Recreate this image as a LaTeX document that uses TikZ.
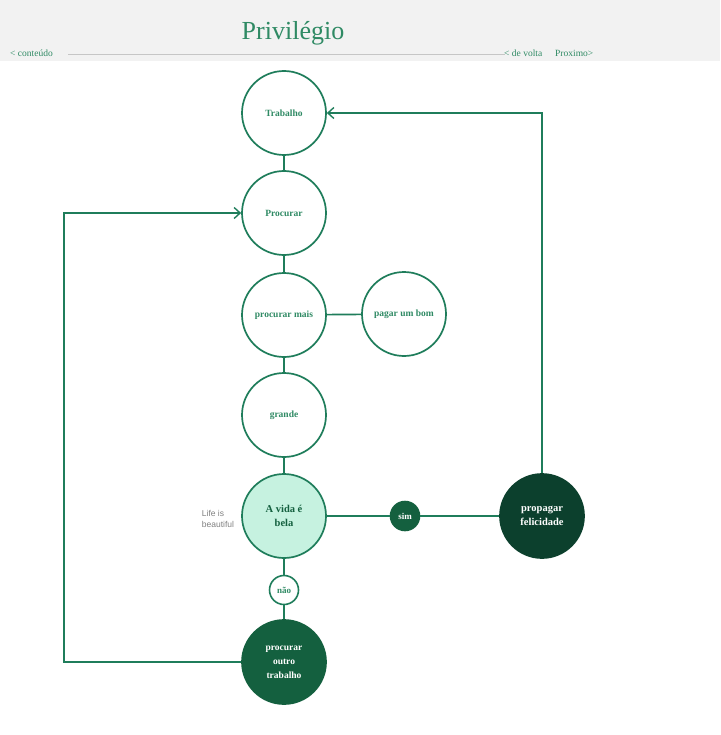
\documentclass[tikz,border=0pt]{standalone}
\usepackage{fontspec}
\setmainfont{Liberation Serif}
\newfontfamily\lifefont{Liberation Sans}
\usetikzlibrary{arrows.meta}
\definecolor{gline}{HTML}{1F7D5B}
\definecolor{gtext}{HTML}{2F8A64}
\definecolor{glight}{HTML}{C6F2E0}
\definecolor{gdark}{HTML}{14603F}
\definecolor{gdeep}{HTML}{0C402D}
\definecolor{hdr}{HTML}{F2F2F2}
\tikzset{
  bub/.style={circle, draw=gline, line width=1.7pt, fill=white, minimum size=84pt, inner sep=0pt, align=center, text=gtext, font=\fontsize{9.5}{14}\selectfont\bfseries},
  smallbub/.style={circle, line width=1.6pt, minimum size=29pt, inner sep=0pt, font=\fontsize{9}{10}\selectfont\bfseries},
  conn/.style={draw=gline, line width=1.7pt},
  arr/.style={conn, -{Straight Barb[length=6pt,width=11pt,line width=1.4pt]}},
  nav/.style={text=gtext, font=\fontsize{9.5}{10}\selectfont, inner sep=0pt, anchor=base west}
}
\begin{document}
\begin{tikzpicture}[x=1pt,y=-1pt]
\useasboundingbox (0,0) rectangle (720,735);
\fill[hdr] (0,0) rectangle (720,61);
\node[text=gtext, font=\fontsize{26}{28}\selectfont, inner sep=0pt] (title) at (293,33) {Privilégio};
\draw[gray!45, line width=0.9pt] (68,54.5) -- (505,54.5);
\node[nav] (cont) at (10,57) {< conteúdo};
\node[nav] (volta) at (504,57) {< de volta};
\node[nav] (prox) at (555,57) {Proximo>};

\node[bub] (trab) at (284,113) {Trabalho};
\node[bub] (proc) at (284,213) {Procurar};
\node[bub] (mais) at (284,315) {procurar mais};
\node[bub] (pagar) at (404,314) {pagar um bom};
\node[bub] (grande) at (284,415) {grande};
\node[bub, fill=glight, text=gdark, font=\fontsize{10.5}{14}\selectfont\bfseries] (vida) at (284,516) {A vida é\\bela};
\node[smallbub, fill=gdark, draw=gdark, text=white] (sim) at (405,516) {sim};
\node[smallbub, fill=white, draw=gline, text=gtext] (nao) at (284,590) {não};
\node[bub, fill=gdeep, draw=gdeep, text=white, font=\fontsize{10.5}{14}\selectfont\bfseries] (prop) at (542,516) {propagar\\felicidade};
\node[bub, fill=gdark, draw=gdark, text=white] (outro) at (284,662) {procurar\\outro\\trabalho};
\node[text=gray, font=\lifefont\fontsize{8.5}{11}\selectfont, align=left, inner sep=0pt] (life) at (218,519) {Life is\\beautiful};

\draw[conn] (trab) -- (proc);
\draw[conn] (proc) -- (mais);
\draw[conn] (mais) -- (pagar);
\draw[conn] (mais) -- (grande);
\draw[conn] (grande) -- (vida);
\draw[conn] (vida) -- (nao);
\draw[conn] (nao) -- (outro);
\draw[conn] (vida) -- (sim);
\draw[conn] (sim) -- (prop);
\coordinate (lb) at (64,662);
\coordinate (lt) at (64,213);
\coordinate (rt) at (542,113);
\draw[arr] (outro.west) -- (lb) -- (lt) -- (proc.west);
\draw[arr] (prop.north) -- (rt) -- (trab.east);
\end{tikzpicture}
\end{document}
